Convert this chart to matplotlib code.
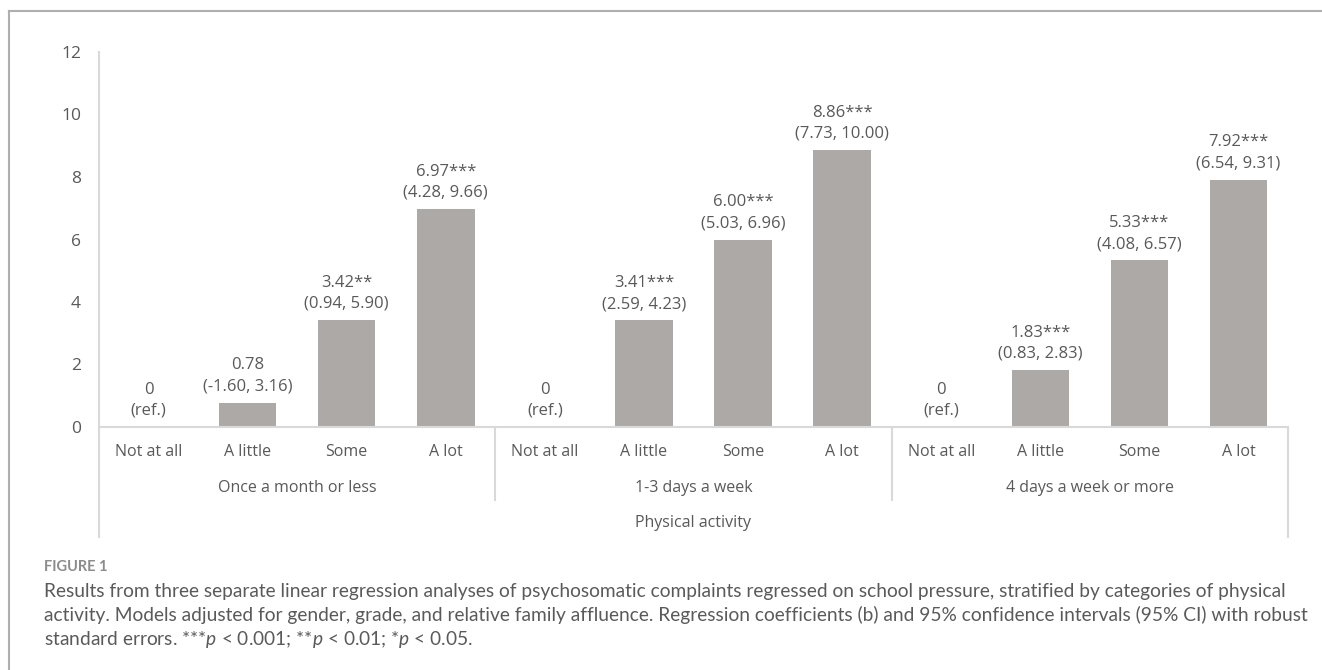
import matplotlib.pyplot as plt
import matplotlib.lines as mlines

plt.rcParams['mathtext.fontset'] = 'custom'
plt.rcParams['mathtext.rm'] = 'Lato'
plt.rcParams['mathtext.it'] = 'Lato:italic'

# Regression coefficients per physical activity group
groups = ["Once a month or less", "1-3 days a week", "4 days a week or more"]
levels = ["Not at all", "A little", "Some", "A lot"]
coef_month = [0, 0.78, 3.42, 6.97]
coef_1to3 = [0, 3.41, 6.00, 8.86]
coef_4plus = [0, 1.83, 5.33, 7.92]
ci_month = ["ref.", "-1.60, 3.16", "0.94, 5.90", "4.28, 9.66"]
ci_1to3 = ["ref.", "2.59, 4.23", "5.03, 6.96", "7.73, 10.00"]
ci_4plus = ["ref.", "0.83, 2.83", "4.08, 6.57", "6.54, 9.31"]
stars_month = ["", "", "**", "***"]
stars_1to3 = ["", "***", "***", "***"]
stars_4plus = ["", "***", "***", "***"]

values = coef_month + coef_1to3 + coef_4plus
cis = ci_month + ci_1to3 + ci_4plus
stars = stars_month + stars_1to3 + stars_4plus

W, H = 1322, 670
fig = plt.figure(figsize=(W / 100, H / 100), dpi=100)

txt = "#595959"
grid = "#D9D9D9"
bar_color = "#ADA9A7"
cfont = "Open Sans"

ax = fig.add_axes([99 / W, (H - 427) / H, (1288 - 99) / W, 375 / H])
x = list(range(len(values)))
ax.bar(x, values, width=0.58, color=bar_color)
ax.set_xlim(-0.5, len(values) - 0.5)
ax.set_ylim(0, 12)
ax.set_yticks(range(0, 13, 2))
ax.tick_params(axis='y', length=0, pad=13, labelsize=12.5, labelcolor=txt)
for lab in ax.get_yticklabels():
    lab.set_fontfamily(cfont)
ax.set_xticks([])
for s in ["top", "right", "left"]:
    ax.spines[s].set_visible(False)
ax.spines["bottom"].set_color(grid)
ax.spines["bottom"].set_linewidth(1.5)

# value labels above bars
for xi, v, c, st in zip(x, values, cis, stars):
    if c == "ref.":
        label = "0\n(ref.)"
    else:
        label = f"{v:.2f}{st}\n({c})"
    ax.annotate(label, (xi, v), xytext=(0, 6), textcoords="offset points",
                ha="center", va="bottom", fontsize=12, color=txt,
                family=cfont, linespacing=1.4)

# multi-level category axis
xt = ax.get_xaxis_transform()
for i, lev in enumerate(levels * 3):
    ax.text(i, -0.067, lev, transform=xt, ha="center", va="center",
            fontsize=11.5, color=txt, family=cfont)
for g, name in enumerate(groups):
    ax.text(g * 4 + 1.5, -0.163, name, transform=xt, ha="center", va="center",
            fontsize=11.5, color=txt, family=cfont)
ax.text(5.5, -0.256, "Physical activity", transform=xt, ha="center",
        va="center", fontsize=11.5, color=txt, family=cfont)
for xb in [3.5, 7.5]:
    ax.plot([xb, xb], [0, -0.195], transform=xt, color=grid, lw=1.5,
            clip_on=False)
for xb in [-0.5, 11.5]:
    ax.plot([xb, xb], [1, -0.293] if xb < 0 else [0, -0.293], transform=xt,
            color=grid, lw=1.5, clip_on=False)

# outer frame (top and left edges)
frame = "#AFAFAF"
fig.add_artist(mlines.Line2D([9 / W, 1], [1 - 11 / H] * 2, color=frame, lw=1.5))
fig.add_artist(mlines.Line2D([9 / W] * 2, [0, 1 - 11 / H], color=frame, lw=1.5))

# caption
fig.text(44 / W, 1 - 567 / H, "FIGURE 1", fontsize=10.5, fontweight="bold",
         color="#8C8C8C", family="Lato", va="center")
cap_lines = [
    "Results from three separate linear regression analyses of psychosomatic complaints regressed on school pressure, stratified by categories of physical",
    "activity. Models adjusted for gender, grade, and relative family affluence. Regression coefficients (b) and 95% confidence intervals (95% CI) with robust",
    r"standard errors. ***$p$ < 0.001; **$p$ < 0.01; *$p$ < 0.05.",
]
for k, line in enumerate(cap_lines):
    fig.text(44 / W, 1 - (591 + 24 * k) / H, line, fontsize=13.8, color="#5A5A5A",
             family="Lato", va="center")

fig.savefig("out.png", dpi=100)
